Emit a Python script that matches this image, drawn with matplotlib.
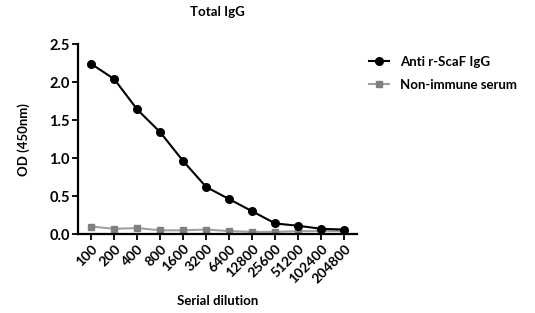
import matplotlib
matplotlib.use("Agg")
import matplotlib.pyplot as plt
import numpy as np

plt.rcParams['font.family'] = ['Lato', 'DejaVu Sans']
plt.rcParams['font.weight'] = 'bold'

dilutions = ["100", "200", "400", "800", "1600", "3200", "6400",
             "12800", "25600", "51200", "102400", "204800"]
anti_scaf = [2.24, 2.04, 1.64, 1.34, 0.96, 0.62, 0.46, 0.30, 0.14, 0.11, 0.07, 0.06]
non_immune = [0.10, 0.07, 0.08, 0.05, 0.05, 0.06, 0.04, 0.03, 0.03, 0.04, 0.04, 0.04]


def main():
    fig = plt.figure(figsize=(5.35, 3.13), dpi=100)
    ax = fig.add_axes([0.146, 0.252, 0.522, 0.607])
    x = np.arange(len(dilutions))

    ax.plot(x, anti_scaf, color="black", lw=1.5, marker="o", ms=5.5,
            label="Anti r-ScaF IgG", zorder=3)
    ax.plot(x, non_immune, color="#a0a0a0", lw=1.5, marker="s", ms=5,
            mfc="#808080", mec="#808080", label="Non-immune serum", zorder=2)

    ax.set_xlim(-0.57, len(dilutions) - 0.43)
    ax.set_ylim(0, 2.5)
    ax.set_yticks([0, 0.5, 1.0, 1.5, 2.0, 2.5])
    ax.set_yticklabels(["0.0", "0.5", "1.0", "1.5", "2.0", "2.5"], fontsize=10.5, fontweight="bold")
    ax.set_xticks(x)
    ax.set_xticklabels(dilutions, rotation=45, ha="right", rotation_mode="anchor",
                       fontsize=10, fontweight="bold")

    for s in ["top", "right"]:
        ax.spines[s].set_visible(False)
    for s in ["left", "bottom"]:
        ax.spines[s].set_linewidth(1.6)
    ax.tick_params(width=1.3, length=4, pad=2)

    ax.set_ylabel("OD (450nm)", fontsize=9.5, fontweight="bold", labelpad=14)
    ax.set_xlabel("Serial dilution", fontsize=9.5, fontweight="bold", labelpad=7)
    ax.set_title("Total IgG", fontsize=9.5, fontweight="bold", pad=20)

    ax.legend(loc="upper left", bbox_to_anchor=(1.0, 1.0), frameon=False,
              fontsize=9.5, handlelength=1.5, labelspacing=0.8)

    fig.savefig("out.png", dpi=100)


if __name__ == '__main__':
    main()
